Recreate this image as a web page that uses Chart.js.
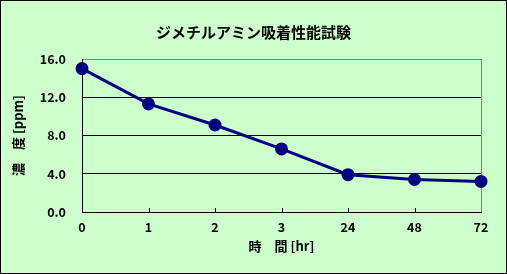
<!DOCTYPE html>
<html>
<head>
<meta charset="utf-8">
<script src="https://cdn.jsdelivr.net/npm/chart.js@4"></script>
<style>
  body { margin: 0; }
  #c { display: block; }
</style>
</head>
<body>
<canvas id="c" width="507" height="274"></canvas>
<script>
// data
var hours = ["0", "1", "2", "3", "24", "48", "72"];
var conc = [15.0, 11.3, 9.1, 6.6, 3.9, 3.4, 3.2];
var yTicks = [0, 4, 8, 12, 16];

var FONT = "'Noto Sans CJK JP', 'DejaVu Sans', sans-serif";

// green background and black frame
var frame = {
    id: "frame",
    beforeDraw: function (chart) {
        var ctx = chart.ctx;
        ctx.save();
        ctx.fillStyle = "#CCFFCC";
        ctx.fillRect(0, 0, chart.width, chart.height);
        ctx.strokeStyle = "#000";
        ctx.lineWidth = 1;
        ctx.strokeRect(0.5, 0.5, chart.width - 1, chart.height - 1);
        ctx.restore();
    },
    // short tick marks pointing into the plot
    afterDatasetsDraw: function (chart) {
        var ctx = chart.ctx;
        var x = chart.scales.x;
        var bottom = chart.chartArea.bottom;
        ctx.save();
        ctx.strokeStyle = "#000";
        ctx.lineWidth = 1;
        for (var i = 1; i < hours.length - 1; i++) {
            var px = Math.round(x.getPixelForValue(i)) + 0.5;
            ctx.beginPath();
            ctx.moveTo(px, bottom);
            ctx.lineTo(px, bottom - 4);
            ctx.stroke();
        }
        ctx.restore();
    }
};

new Chart("c", {
    type: "line",
    data: {
        labels: hours,
        datasets: [{
            data: conc,
            borderColor: "#000080",
            backgroundColor: "#000080",
            borderWidth: 3,
            pointRadius: 5,
            pointHoverRadius: 5,
            pointBackgroundColor: "#000080",
            pointBorderColor: "#000080",
            tension: 0
        }]
    },
    options: {
        responsive: false,
        animation: false,
        layout: {padding: {top: 0, left: 0, right: 0, bottom: 20}},
        plugins: {
            legend: {display: false},
            tooltip: {enabled: false},
            title: {
                display: true,
                text: "ジメチルアミン吸着性能試験",
                color: "#000",
                font: {family: FONT, size: 15, weight: "bold"},
                padding: {top: 23, bottom: 18}
            }
        },
        scales: {
            x: {
                offset: false,
                afterFit: function (s) { s.height = 42; },
                border: {color: "#000", width: 1},
                grid: {
                    drawTicks: false,
                    color: function (c) {
                        return c.index === hours.length - 1 ? "#808080" : "rgba(0,0,0,0)";
                    }
                },
                ticks: {
                    color: "#000",
                    padding: 8,
                    maxRotation: 0,
                    font: {family: FONT, size: 12.5, weight: "bold"}
                },
                title: {
                    display: true,
                    text: "時　間 [hr]",
                    color: "#000",
                    padding: {top: 0, bottom: 0},
                    font: {family: FONT, size: 13, weight: "bold"}
                }
            },
            y: {
                min: 0,
                max: 16,
                afterBuildTicks: function (s) {
                    s.ticks = yTicks.map(function (v) { return {value: v}; });
                },
                afterFit: function (s) { s.width = 82; },
                border: {color: "#000", width: 1},
                grid: {
                    drawTicks: false,
                    color: function (c) {
                        return c.tick.value === 16 ? "#808080" : "#000";
                    }
                },
                ticks: {
                    color: "#000",
                    padding: 16,
                    font: {family: FONT, size: 12.5, weight: "bold"},
                    callback: function (v) { return v.toFixed(1); }
                },
                title: {
                    display: true,
                    text: "濃　度 [ppm]",
                    color: "#000",
                    padding: {top: 10, bottom: 0},
                    font: {family: FONT, size: 13, weight: "bold"}
                }
            },
            // empty right-hand strip so the title centres on the whole picture
            yRight: {
                position: "right",
                min: 0,
                max: 16,
                afterFit: function (s) { s.width = 26; },
                grid: {display: false},
                border: {display: false},
                ticks: {display: false}
            }
        }
    },
    plugins: [frame]
});
</script>
</body>
</html>
